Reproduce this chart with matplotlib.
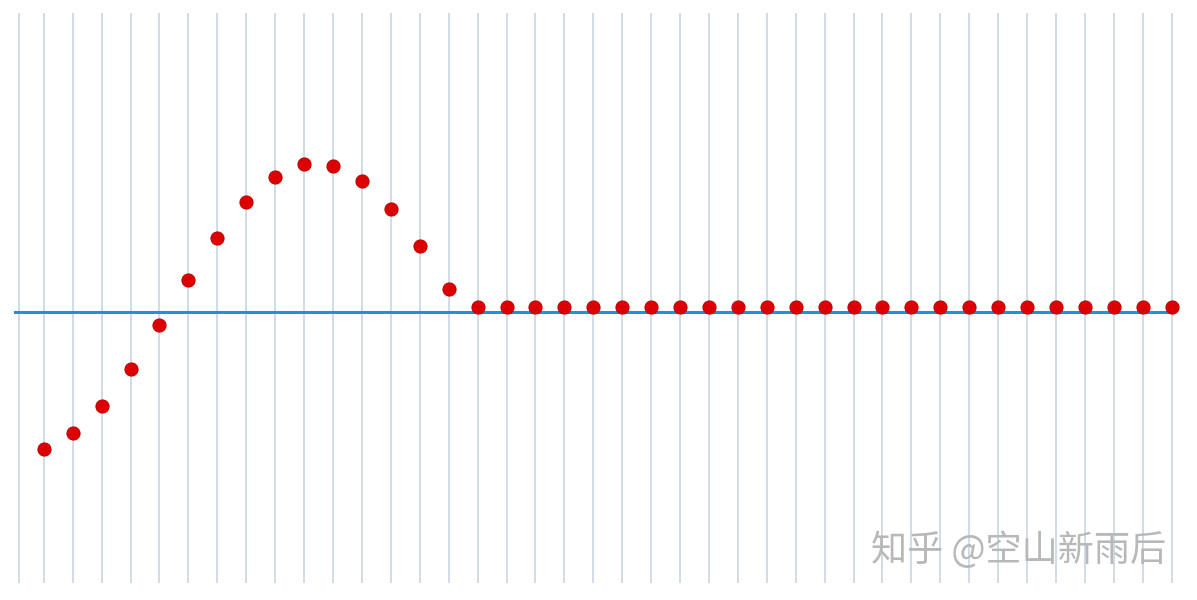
import matplotlib
matplotlib.use("Agg")
import matplotlib.pyplot as plt
import numpy as np

plt.rcParams['font.family'] = ['Noto Sans CJK SC', 'DejaVu Sans']

# data (arbitrary units; 0 = baseline)
idx = list(range(40))
values = [-1.375, -1.215, -0.945, -0.575, -0.135, 0.315, 0.74, 1.095, 1.35, 1.48,
          1.46, 1.31, 1.03, 0.66, 0.225] + [0.045] * 25
watermark = "知乎 @空山新雨后"

fig = plt.figure(figsize=(11.97, 6.0), dpi=100)
ax = fig.add_axes([0, 0, 1, 1])
x0, dx = 43.8, 28.92
ax.set_xlim((0 - x0) / dx, (1197 - x0) / dx)
ax.set_ylim(-(600 - 311.5) / 100, 311.5 / 100)
ax.axis('off')

grid_top = (311.5 - 13) / 100
grid_bot = -(583 - 311.5) / 100
grid_x = [(19 - x0) / dx] + idx
ax.vlines(grid_x, grid_bot, grid_top, colors='#cad5e3', linewidth=1.2, zorder=1)

ax.plot([-1, idx[-1]], [0, 0], color='#1a94dc', linewidth=2.2, zorder=2)
ax.plot(idx, values, linestyle='none', marker='o', markersize=9.4,
        markerfacecolor='#dd0000', markeredgecolor='#c40000', markeredgewidth=0.8, zorder=3)

fig.text(1166 / 1197, 1 - 550 / 600, watermark, ha='right', va='center',
         fontsize=26, color='#b8b8b8')

fig.savefig("out.png", dpi=100)
